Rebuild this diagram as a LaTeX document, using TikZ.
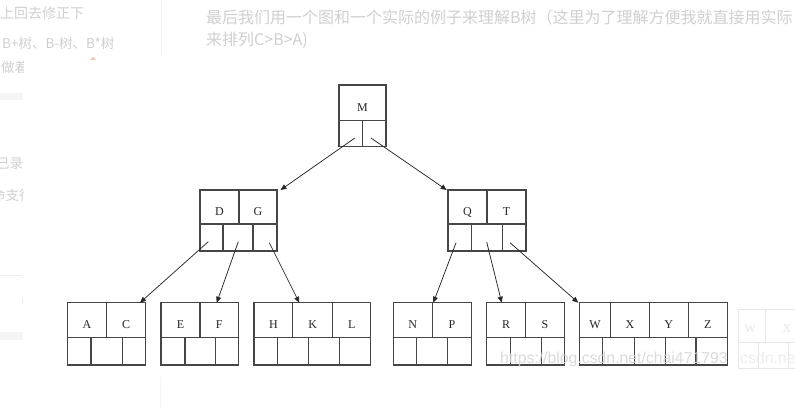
\documentclass[tikz,border=0pt]{standalone}
\usepackage{fontspec}
\setmainfont{Liberation Serif}
\newfontfamily\cjk{Noto Sans CJK SC}
\newfontfamily\wsans{Liberation Sans}
\usetikzlibrary{arrows.meta,calc}
\definecolor{boxc}{RGB}{70,70,70}
\definecolor{arrc}{RGB}{40,40,40}
\definecolor{pagetxt}{RGB}{208,208,208}
\definecolor{faint}{RGB}{238,238,238}
\definecolor{faintbar}{RGB}{245,245,245}
\definecolor{fadebox}{RGB}{230,230,230}
\definecolor{wmark}{RGB}{212,212,212}
\definecolor{caret}{RGB}{240,200,185}
\tikzset{
  cell/.style={draw=boxc, line width=1.2pt, inner sep=0pt, outer sep=0pt,
    anchor=north west, text height=16.5pt, text depth=0pt,
    font=\fontsize{12}{12}\selectfont, text=black!85},
  arr/.style={draw=arrc, line width=0.75pt, -{Triangle[length=6pt,width=5pt]}},
  pagetext/.style={text=pagetxt, inner sep=0pt, anchor=west},
}
\newcommand\cel[5]{\node[cell,minimum width=#3pt,minimum height=#4pt] (#1) at (#2) {#5};}
\begin{document}
\begin{tikzpicture}[x=1pt,y=-1pt]
\fill[white] (0,0) rectangle (795,408);
\useasboundingbox (0,0) rectangle (795,408);

% ---- page background elements ----
\node[pagetext, font=\cjk\fontsize{16}{16}\selectfont] (t1) at (206,17)
  {最后我们用一个图和一个实际的例子来理解B树（这里为了理解方便我就直接用实际};
\node[pagetext, font=\cjk\fontsize{16}{16}\selectfont] (t2) at (206,40)
  {来排列C>B>A)};
\node[pagetext, font=\cjk\fontsize{14}{14}\selectfont] (s1) at (0,13) {上回去修正下};
\node[pagetext, font=\cjk\fontsize{13.5}{13.5}\selectfont] (s2) at (2,43) {B+树、B-树、B*树};
\begin{scope}
  \clip (0,0) rectangle (23,408);
  \node[pagetext, font=\cjk\fontsize{13.5}{13.5}\selectfont] (s3) at (1,67) {做着};
  \node[pagetext, font=\cjk\fontsize{13.5}{13.5}\selectfont] (s4) at (-4,163) {已录的};
  \node[pagetext, font=\cjk\fontsize{13.5}{13.5}\selectfont] (s5) at (-8,195) {命支行};
\end{scope}
\fill[faintbar] (0,93) rectangle (22.5,100);
\draw[faint, line width=0.8pt] (0,275) -- (22,275);
\fill[faintbar] (0,332) rectangle (22.5,340);
\draw[faint, line width=0.8pt] (22,297) -- (22,304);
\draw[faintbar, line width=0.8pt] (161,0) -- (161,57);
\draw[faintbar, line width=0.8pt] (160,377) -- (160,408);
\fill[caret] (90,60) -- (96,60) -- (93,56.5) -- cycle;

% faded copy at right
\begin{scope}[draw=fadebox, line width=1.2pt]
  \draw (800,309.3) -- (738.3,309.3) -- (738.3,368.3) -- (800,368.3);
  \draw (738.3,342.7) -- (800,342.7);
  \draw (765.7,309.3) -- (765.7,342.7);
  \draw (758.3,342.7) -- (758.3,368.3);
  \draw (788.3,342.7) -- (788.3,368.3);
\end{scope}
\node[text=fadebox, font=\fontsize{12}{12}\selectfont] (fw) at (750,329) {W};
\node[text=fadebox, font=\fontsize{12}{12}\selectfont] (fx) at (786.7,329) {X};

% ---- B-tree ----
% root
\cel{Mk}{339,85}{47}{35.7}{M}
\cel{Mp1}{339,120.7}{23.7}{26}{}
\cel{Mp2}{362.7,120.7}{23.3}{26}{}
% DG
\cel{Dk}{200,190}{39}{34}{D}
\cel{Gk}{239,190}{38}{34}{G}
\cel{DGp1}{200,224}{23}{27}{}
\cel{DGp2}{223,224}{30}{27}{}
\cel{DGp3}{253,224}{24}{27}{}
% QT
\cel{Qk}{448,190}{39}{34}{Q}
\cel{Tk}{487,190}{39}{34}{T}
\cel{QTp1}{448,224}{23.5}{27}{}
\cel{QTp2}{471.5,224}{30.8}{27}{}
\cel{QTp3}{502.3,224}{23.7}{27}{}
% AC
\cel{Ak}{67.3,302.7}{39.4}{35}{A}
\cel{Ck}{106.7,302.7}{39}{35}{C}
\cel{ACp1}{67.3,337.7}{23.7}{27.3}{}
\cel{ACp2}{91,337.7}{31.3}{27.3}{}
\cel{ACp3}{122.3,337.7}{23.4}{27.3}{}
% EF
\cel{Ek}{161,302.7}{39}{35}{E}
\cel{Fk}{200,302.7}{38.3}{35}{F}
\cel{EFp1}{161,337.7}{24}{27.3}{}
\cel{EFp2}{185,337.7}{30.7}{27.3}{}
\cel{EFp3}{215.7,337.7}{22.6}{27.3}{}
% HKL
\cel{Hk}{254,302.7}{38.7}{35}{H}
\cel{Kk}{292.7,302.7}{40}{35}{K}
\cel{Lk}{332.7,302.7}{38}{35}{L}
\cel{HKLp1}{254,337.7}{23.3}{27.3}{}
\cel{HKLp2}{277.3,337.7}{31}{27.3}{}
\cel{HKLp3}{308.3,337.7}{31}{27.3}{}
\cel{HKLp4}{339.3,337.7}{31.4}{27.3}{}
% NP
\cel{Nk}{393.3,302.7}{39}{35}{N}
\cel{Pk}{432.3,302.7}{39.4}{35}{P}
\cel{NPp1}{393.3,337.7}{23.4}{27.3}{}
\cel{NPp2}{416.7,337.7}{31}{27.3}{}
\cel{NPp3}{447.7,337.7}{24}{27.3}{}
% RS
\cel{Rk}{486.7,302.7}{39}{35}{R}
\cel{Sk}{525.7,302.7}{38.6}{35}{S}
\cel{RSp1}{486.7,337.7}{24}{27.3}{}
\cel{RSp2}{510.7,337.7}{30.6}{27.3}{}
\cel{RSp3}{541.3,337.7}{23}{27.3}{}
% WXYZ
\cel{Wk}{579.3,302.7}{31.4}{35}{W}
\cel{Xk}{610.7,302.7}{38.6}{35}{X}
\cel{Yk}{649.3,302.7}{39}{35}{Y}
\cel{Zk}{688.3,302.7}{39}{35}{Z}
\cel{Wp1}{579.3,337.7}{23.4}{27.3}{}
\cel{Wp2}{602.7,337.7}{31.6}{27.3}{}
\cel{Wp3}{634.3,337.7}{31.4}{27.3}{}
\cel{Wp4}{665.7,337.7}{30.3}{27.3}{}
\cel{Wp5}{696,337.7}{31.3}{27.3}{}

% arrows
\draw[arr] ($(Mp1.center)+(4,4.3)$) -- ($(Gk.north east)+(3.5,0)$);
\draw[arr] ($(Mp2.center)+(-3.4,4.3)$) -- ($(Qk.north west)+(-1.3,0)$);
\draw[arr] ($(DGp1.center)+(-3.2,4.2)$) -- ($(Ck.north east)+(-5.7,0)$);
\draw[arr] ($(DGp2.center)+(0.3,4.2)$) -- ($(Fk.north west)+(16.7,0)$);
\draw[arr] ($(DGp3.center)+(4.3,5.2)$) -- ($(Kk.north west)+(6.6,0)$);
\draw[arr] ($(QTp1.center)+(-3.7,5.2)$) -- ($(Pk.north west)+(1,0)$);
\draw[arr] ($(QTp2.center)+(-0.2,4.5)$) -- ($(Rk.north west)+(15,0)$);
\draw[arr] ($(QTp3.center)+(-4.1,5.2)$) -- ($(Wk.north west)+(-1,0)$);

% watermarks
\node[anchor=base west, inner sep=0pt, font=\wsans\fontsize{15.8}{15.8}\selectfont,
  text=wmark, opacity=0.85] (wm) at (500,363) {https://blog.csdn.net/chai471793};
\node[anchor=base west, inner sep=0pt, font=\wsans\fontsize{15.8}{15.8}\selectfont,
  text=faint] (wm2) at (740,363) {csdn.net};
\end{tikzpicture}
\end{document}
